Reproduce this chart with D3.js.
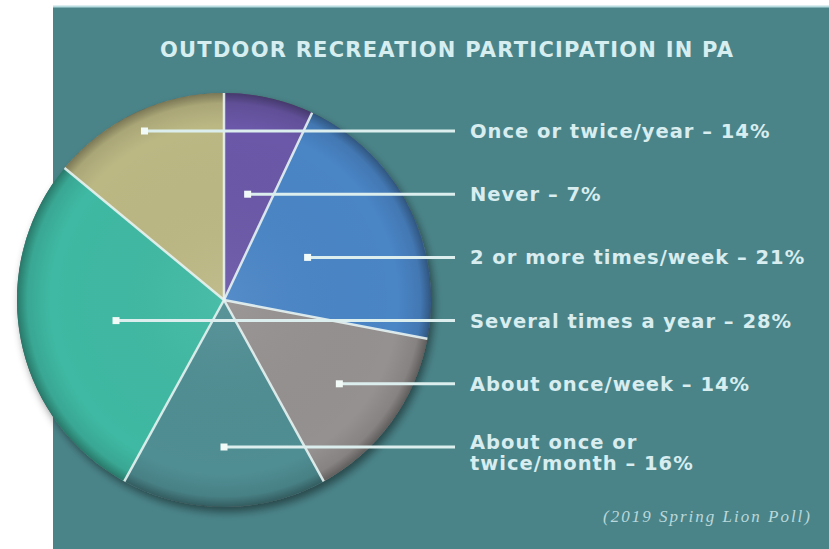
<!DOCTYPE html>
<html>
<head>
<meta charset="utf-8">
<script src="https://d3js.org/d3.v7.min.js"></script>
<style>
  body { margin: 0; background: #fff; }
  svg { display: block; }
</style>
</head>
<body>
<script>
// slices, clockwise from 12 o'clock
var categories = ["Never", "2 or more times/week", "About once/week", "About once or twice/month", "Several times a year", "Once or twice/year"];
var values = [7, 21, 14, 16, 28, 14];
var colors = ["#6b58a8", "#4a85c6", "#959190", "#4f8e93", "#3fb9a3", "#bcb884"];
// legend rows, top to bottom
var legendOrder = ["Once or twice/year", "Never", "2 or more times/week", "Several times a year", "About once/week", "About once or twice/month"];
var labelBreaks = { "About once or twice/month": ["About once or", "twice/month"] };
var title = "OUTDOOR RECREATION PARTICIPATION IN PA";
var credit = "(2019 Spring Lion Poll)";

var width = 829, height = 549;
var cx = 224, cy = 300, r = 207;

var svg = d3.select("body").append("svg")
    .attr("width", width)
    .attr("height", height);

var defs = svg.append("defs");

var shadow = defs.append("filter").attr("id", "shadow")
    .attr("x", "-20%").attr("y", "-20%").attr("width", "140%").attr("height", "140%");
shadow.append("feDropShadow")
    .attr("dx", 3).attr("dy", 5).attr("stdDeviation", 4)
    .attr("flood-color", "#000").attr("flood-opacity", 0.45);

var rim = defs.append("radialGradient").attr("id", "rim");
rim.append("stop").attr("offset", "0%").attr("stop-color", "#fff").attr("stop-opacity", 0.06);
rim.append("stop").attr("offset", "84%").attr("stop-color", "#000").attr("stop-opacity", 0);
rim.append("stop").attr("offset", "95%").attr("stop-color", "#000").attr("stop-opacity", 0.1);
rim.append("stop").attr("offset", "100%").attr("stop-color", "#000").attr("stop-opacity", 0.35);

// panel
svg.append("rect")
    .attr("x", 53).attr("y", 6)
    .attr("width", width - 53).attr("height", height - 6)
    .attr("fill", "#4a8489");
svg.append("line")
    .attr("x1", 53).attr("x2", width)
    .attr("y1", 6.5).attr("y2", 6.5)
    .attr("stroke", "#b9dde1").attr("stroke-width", 2);

svg.append("text")
    .attr("x", 160).attr("y", 57)
    .attr("textLength", 573).attr("lengthAdjust", "spacing")
    .attr("font-family", "DejaVu Sans").attr("font-weight", "bold")
    .attr("font-size", 21).attr("fill", "#d6eef0")
    .text(title);

var data = categories.map(function (c, i) { return { name: c, value: values[i], color: colors[i] }; });

var pie = d3.pie().sort(null).value(function (d) { return d.value; });
var arcs = pie(data);
var arc = d3.arc().innerRadius(0).outerRadius(r);

var g = svg.append("g").attr("transform", "translate(" + cx + "," + cy + ")");

g.append("circle").attr("r", r).attr("fill", "#555").attr("filter", "url(#shadow)");

g.selectAll(".slice")
    .data(arcs)
    .enter().append("path")
    .attr("class", "slice")
    .attr("d", arc)
    .attr("fill", function (d) { return d.data.color; });

g.append("circle").attr("r", r).attr("fill", "url(#rim)");

// light seams between slices
g.selectAll(".seam")
    .data(arcs)
    .enter().append("line")
    .attr("class", "seam")
    .attr("x1", 0).attr("y1", 0)
    .attr("x2", function (d) { return Math.sin(d.startAngle) * r; })
    .attr("y2", function (d) { return -Math.cos(d.startAngle) * r; })
    .attr("stroke", "#e8f4f3").attr("stroke-width", 2.5).attr("stroke-opacity", 0.9);

// legend with leader lines
var row = d3.scalePoint().domain(legendOrder).range([131, 447]);
var lineEnd = 455, textX = 470;

var byName = {};
arcs.forEach(function (a) { byName[a.data.name] = a; });

legendOrder.forEach(function (name) {
    var a = byName[name];
    var mid = (a.startAngle + a.endAngle) / 2;
    var y = row(name);
    var t = (y - cy) / -Math.cos(mid);
    var x = cx + t * Math.sin(mid);

    svg.append("line")
        .attr("x1", x).attr("x2", lineEnd)
        .attr("y1", y).attr("y2", y)
        .attr("stroke", "#dcefee").attr("stroke-width", 3);
    svg.append("rect")
        .attr("x", x - 3.5).attr("y", y - 3.5)
        .attr("width", 7).attr("height", 7)
        .attr("fill", "#f2faf8");

    var pct = " \u2013 " + a.data.value + "%";
    var lines = labelBreaks[name] ? [labelBreaks[name][0], labelBreaks[name][1] + pct] : [name + pct];
    var txt = svg.append("text")
        .attr("x", textX).attr("y", y + (lines.length > 1 ? 2 : 7))
        .attr("font-family", "DejaVu Sans").attr("font-weight", "bold")
        .attr("font-size", 19.5).attr("letter-spacing", 1)
        .attr("fill", "#d7edef");
    lines.forEach(function (l, i) {
        txt.append("tspan").attr("x", textX).attr("dy", i === 0 ? 0 : 21).text(l);
    });
});

svg.append("text")
    .attr("x", 812).attr("y", 522)
    .attr("text-anchor", "end")
    .attr("font-family", "Liberation Serif").attr("font-style", "italic")
    .attr("font-size", 17).attr("letter-spacing", 2)
    .attr("fill", "#b9d8db")
    .text(credit);
</script>
</body>
</html>
